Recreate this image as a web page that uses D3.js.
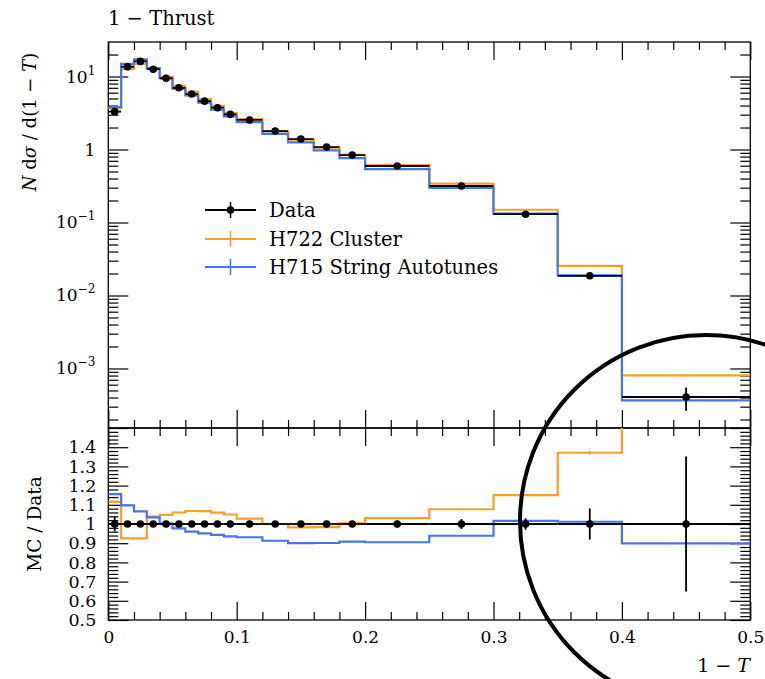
<!DOCTYPE html>
<html><head><meta charset="utf-8">
<script src="https://cdn.jsdelivr.net/npm/d3@7/dist/d3.min.js"></script>
<style>
body{margin:0;background:#fff}
svg{display:block}
text{font-family:"DejaVu Serif",serif;fill:#000}
</style>
</head><body>
<svg id="c" width="765" height="679"></svg>
<script>
// ---- data ----
const binEdges = [0,0.01,0.02,0.03,0.04,0.05,0.06,0.07,0.08,0.09,0.10,0.12,0.14,0.16,0.18,0.20,0.25,0.30,0.35,0.40,0.50];
const dataValues = [3.3,13.6,16.1,12.6,9.45,7.0,5.75,4.6,3.74,3.03,2.54,1.79,1.39,1.08,0.84,0.594,0.316,0.130,0.0186,0.000407];
const dataErrors = [0.13,0.15,0.17,0.13,0.1,0.08,0.065,0.05,0.045,0.04,0.035,0.027,0.022,0.018,0.014,0.011,0.0082,0.0039,0.0015,0.000143];
const h722Values = [3.68,12.58,14.89,13.08,9.90,7.42,6.14,4.91,3.96,3.18,2.61,1.79,1.366,1.062,0.8425,0.612,0.3403,0.1496,0.0255,0.000806];
const h722Errors = [0.01,0.03,0.03,0.03,0.02,0.015,0.012,0.01,0.008,0.006,0.004,0.003,0.0025,0.002,0.0015,0.0012,0.0008,0.0005,0.0002,0.00003];
const h715Values = [3.815,14.92,17.16,13.04,9.48,6.84,5.52,4.375,3.527,2.836,2.365,1.634,1.251,0.973,0.763,0.5376,0.2967,0.1321,0.01882,0.000366];
const h715Errors = [0.01,0.03,0.03,0.03,0.02,0.015,0.012,0.01,0.008,0.006,0.004,0.003,0.0025,0.002,0.0015,0.0012,0.0008,0.0005,0.0002,0.00004];
const seriesNames = ["Data","H722 Cluster","H715 String Autotunes"];
const seriesColors = ["#000000","#f5a02a","#4a74e6"];
const xTickValues = [0,0.1,0.2,0.3,0.4,0.5];
const xTickLabels = ["0","0.1","0.2","0.3","0.4","0.5"];
const topTickValues = [1e-3,1e-2,1e-1,1,10];
const topTickBase = ["10","10","10","1","10"];
const topTickExp = ["\u22123","\u22122","\u22121","","1"];
const ratioTickValues = [0.5,0.6,0.7,0.8,0.9,1.0,1.1,1.2,1.3,1.4];
const ratioTickLabels = ["0.5","0.6","0.7","0.8","0.9","1","1.1","1.2","1.3","1.4"];

// ---- layout ----
const L=108.3, R=750.3, T=42, M=428, B=620;
const svg = d3.select("#c");
const x = d3.scaleLinear().domain([0,0.5]).range([L,R]);
const yTop = d3.scaleLog().domain([1.53e-4,29.7]).range([M,T]);
const yRat = d3.scaleLinear().domain([0.5,1.5]).range([B,M]);
const centers = dataValues.map((d,i)=>(binEdges[i]+binEdges[i+1])/2);

const defs = svg.append("defs");
defs.append("clipPath").attr("id","clipTop").append("rect").attr("x",L).attr("y",T).attr("width",R-L).attr("height",M-T);
defs.append("clipPath").attr("id","clipRat").append("rect").attr("x",L).attr("y",M).attr("width",R-L).attr("height",B-M);

// ---- ticks ----
const xMinor = d3.range(1,25).filter(i=>i%5).map(i=>i/50);
const logMinor = [];
for (let k=-4;k<=1;k++) for (let m=2;m<=9;m++){ const v=m*Math.pow(10,k); if (v>=1.53e-4 && v<=29.7) logMinor.push(v); }
const ratMinor = d3.range(26,75).filter(i=>i%5).map(i=>i/50);
const ratMajor = ratioTickValues.concat([1.5]);

function ax(gen, tx, ty){
  const g = svg.append("g").attr("transform",`translate(${tx},${ty})`).call(gen);
  g.select(".domain").remove();
  g.selectAll(".tick line").attr("stroke","#000").attr("stroke-width",1.2);
  g.selectAll("text").attr("font-family","DejaVu Serif").attr("font-size",17).attr("fill","#000");
  return g;
}
// top panel x ticks
ax(d3.axisTop(x).tickValues(xTickValues).tickSize(-18).tickFormat(""),0,T);
ax(d3.axisTop(x).tickValues(xMinor).tickSize(-8).tickFormat(""),0,T);
ax(d3.axisBottom(x).tickValues(xTickValues).tickSize(-18).tickFormat(""),0,M);
ax(d3.axisBottom(x).tickValues(xMinor).tickSize(-8).tickFormat(""),0,M);
// ratio x ticks
ax(d3.axisTop(x).tickValues(xTickValues).tickSize(-18).tickFormat(""),0,M);
ax(d3.axisTop(x).tickValues(xMinor).tickSize(-8).tickFormat(""),0,M);
const xb = ax(d3.axisBottom(x).tickValues(xTickValues).tickSize(-18).tickPadding(11).tickFormat((d,i)=>xTickLabels[i]),0,B);
ax(d3.axisBottom(x).tickValues(xMinor).tickSize(-8).tickFormat(""),0,B);
// top panel y ticks
ax(d3.axisLeft(yTop).tickValues(topTickValues).tickSize(-20).tickFormat(""),L,0);
ax(d3.axisLeft(yTop).tickValues(logMinor).tickSize(-10).tickFormat(""),L,0);
ax(d3.axisRight(yTop).tickValues(topTickValues).tickSize(-20).tickFormat(""),R,0);
ax(d3.axisRight(yTop).tickValues(logMinor).tickSize(-10).tickFormat(""),R,0);
// ratio y ticks
ax(d3.axisLeft(yRat).tickValues(ratMajor).tickSize(-20).tickFormat(""),L,0);
ax(d3.axisLeft(yRat).tickValues(ratMinor).tickSize(-10).tickFormat(""),L,0);
ax(d3.axisRight(yRat).tickValues(ratMajor).tickSize(-20).tickFormat(""),R,0);
ax(d3.axisRight(yRat).tickValues(ratMinor).tickSize(-10).tickFormat(""),R,0);
const yl = ax(d3.axisLeft(yRat).tickValues(ratioTickValues).tickSize(0).tickPadding(12).tickFormat((d,i)=>ratioTickLabels[i]),L,0);
yl.selectAll("text").attr("font-size",17.5);

// top y labels with superscripts
const tl = svg.append("g").selectAll("text").data(topTickValues).join("text")
  .attr("x",L-13).attr("y",d=>yTop(d)+6).attr("text-anchor","end").attr("font-size",17);
tl.append("tspan").text((d,i)=>topTickBase[i]);
tl.append("tspan").attr("dy",-8).attr("font-size",12).text((d,i)=>topTickExp[i]);

// frames
svg.append("rect").attr("x",L).attr("y",T).attr("width",R-L).attr("height",M-T).attr("fill","none").attr("stroke","#000").attr("stroke-width",1.3);
svg.append("rect").attr("x",L).attr("y",M).attr("width",R-L).attr("height",B-M).attr("fill","none").attr("stroke","#000").attr("stroke-width",1.3);

// ---- series ----
function stepPts(vals){ const p = vals.map((v,i)=>[binEdges[i],v]); p.push([binEdges[vals.length],vals[vals.length-1]]); return p; }
const lineTop = d3.line().x(d=>x(d[0])).y(d=>yTop(d[1])).curve(d3.curveStepAfter);
const lineRat = d3.line().x(d=>x(d[0])).y(d=>yRat(d[1])).curve(d3.curveStepAfter);

const gTop = svg.append("g").attr("clip-path","url(#clipTop)");
const gRat = svg.append("g").attr("clip-path","url(#clipRat)");

[[h722Values,h722Errors,seriesColors[1]],[h715Values,h715Errors,seriesColors[2]]].forEach(([vals,errs,col])=>{
  gTop.append("path").attr("d",lineTop(stepPts(vals))).attr("fill","none").attr("stroke",col).attr("stroke-width",2.2);
  gTop.selectAll(null).data(vals).join("line")
    .attr("x1",(d,i)=>x(centers[i])).attr("x2",(d,i)=>x(centers[i]))
    .attr("y1",(d,i)=>yTop(d+errs[i])).attr("y2",(d,i)=>yTop(Math.max(d-errs[i],1e-6)))
    .attr("stroke",col).attr("stroke-width",1.5);
  const rat = vals.map((v,i)=>v/dataValues[i]);
  gRat.append("path").attr("d",lineRat(stepPts(rat))).attr("fill","none").attr("stroke",col).attr("stroke-width",2.2);
  gRat.selectAll(null).data(rat).join("line")
    .attr("x1",(d,i)=>x(centers[i])).attr("x2",(d,i)=>x(centers[i]))
    .attr("y1",(d,i)=>yRat(d+errs[i]/dataValues[i])).attr("y2",(d,i)=>yRat(d-errs[i]/dataValues[i]))
    .attr("stroke",col).attr("stroke-width",1.5);
});

// data in top panel
gTop.selectAll(null).data(dataValues).join("line")
  .attr("x1",(d,i)=>x(binEdges[i])).attr("x2",(d,i)=>x(binEdges[i+1]))
  .attr("y1",d=>yTop(d)).attr("y2",d=>yTop(d)).attr("stroke","#000").attr("stroke-width",1.8);
gTop.selectAll(null).data(dataValues).join("line")
  .attr("x1",(d,i)=>x(centers[i])).attr("x2",(d,i)=>x(centers[i]))
  .attr("y1",(d,i)=>yTop(d+dataErrors[i])).attr("y2",(d,i)=>yTop(d-dataErrors[i]))
  .attr("stroke","#000").attr("stroke-width",1.8);
gTop.selectAll(null).data(dataValues).join("circle")
  .attr("cx",(d,i)=>x(centers[i])).attr("cy",d=>yTop(d)).attr("r",3.8).attr("fill","#000");

// data in ratio panel
gRat.selectAll(null).data(dataValues).join("line")
  .attr("x1",(d,i)=>x(binEdges[i])).attr("x2",(d,i)=>x(binEdges[i+1]))
  .attr("y1",yRat(1)).attr("y2",yRat(1)).attr("stroke","#000").attr("stroke-width",1.8);
gRat.selectAll(null).data(dataValues).join("line")
  .attr("x1",(d,i)=>x(centers[i])).attr("x2",(d,i)=>x(centers[i]))
  .attr("y1",(d,i)=>yRat(1+dataErrors[i]/d)).attr("y2",(d,i)=>yRat(1-dataErrors[i]/d))
  .attr("stroke","#000").attr("stroke-width",1.8);
gRat.selectAll(null).data(dataValues).join("circle")
  .attr("cx",(d,i)=>x(centers[i])).attr("cy",yRat(1)).attr("r",3.8).attr("fill","#000");

// ---- legend ----
const legRows = [210,239,267];
const lg = svg.append("g");
seriesNames.forEach((name,i)=>{
  const yy = legRows[i], col = seriesColors[i];
  lg.append("line").attr("x1",205).attr("x2",256).attr("y1",yy).attr("y2",yy).attr("stroke",col).attr("stroke-width",i?2.2:1.8);
  lg.append("line").attr("x1",230.5).attr("x2",230.5).attr("y1",yy-8).attr("y2",yy+8).attr("stroke",col).attr("stroke-width",1.5);
  if (i===0) lg.append("circle").attr("cx",230.5).attr("cy",yy).attr("r",3.8).attr("fill","#000");
  lg.append("text").attr("x",269).attr("y",yy+7).attr("font-size",19.5).text(name);
});

// ---- titles ----
svg.append("text").attr("x",108).attr("y",25).attr("font-size",19.5).text("1 \u2212 Thrust");
const ylab = svg.append("text").attr("transform","translate(36,122) rotate(-90)").attr("text-anchor","middle").attr("font-size",18);
ylab.append("tspan").attr("font-style","italic").text("N");
ylab.append("tspan").text(" d");
ylab.append("tspan").attr("font-style","italic").text("\u03c3");
ylab.append("tspan").text(" / d(1 \u2212 ");
ylab.append("tspan").attr("font-style","italic").text("T");
ylab.append("tspan").text(")");
svg.append("text").attr("transform","translate(41,524) rotate(-90)").attr("text-anchor","middle").attr("font-size",18.5).text("MC / Data");
const xlab = svg.append("text").attr("x",750).attr("y",672).attr("text-anchor","end").attr("font-size",19);
xlab.append("tspan").text("1 \u2212 ");
xlab.append("tspan").attr("font-style","italic").text("T");

// ---- annotation circle ----
const annotation = {cx:706, cy:521, r:186};
svg.append("circle").attr("cx",annotation.cx).attr("cy",annotation.cy).attr("r",annotation.r)
  .attr("fill","none").attr("stroke","#000").attr("stroke-width",4);
</script>
</body></html>
